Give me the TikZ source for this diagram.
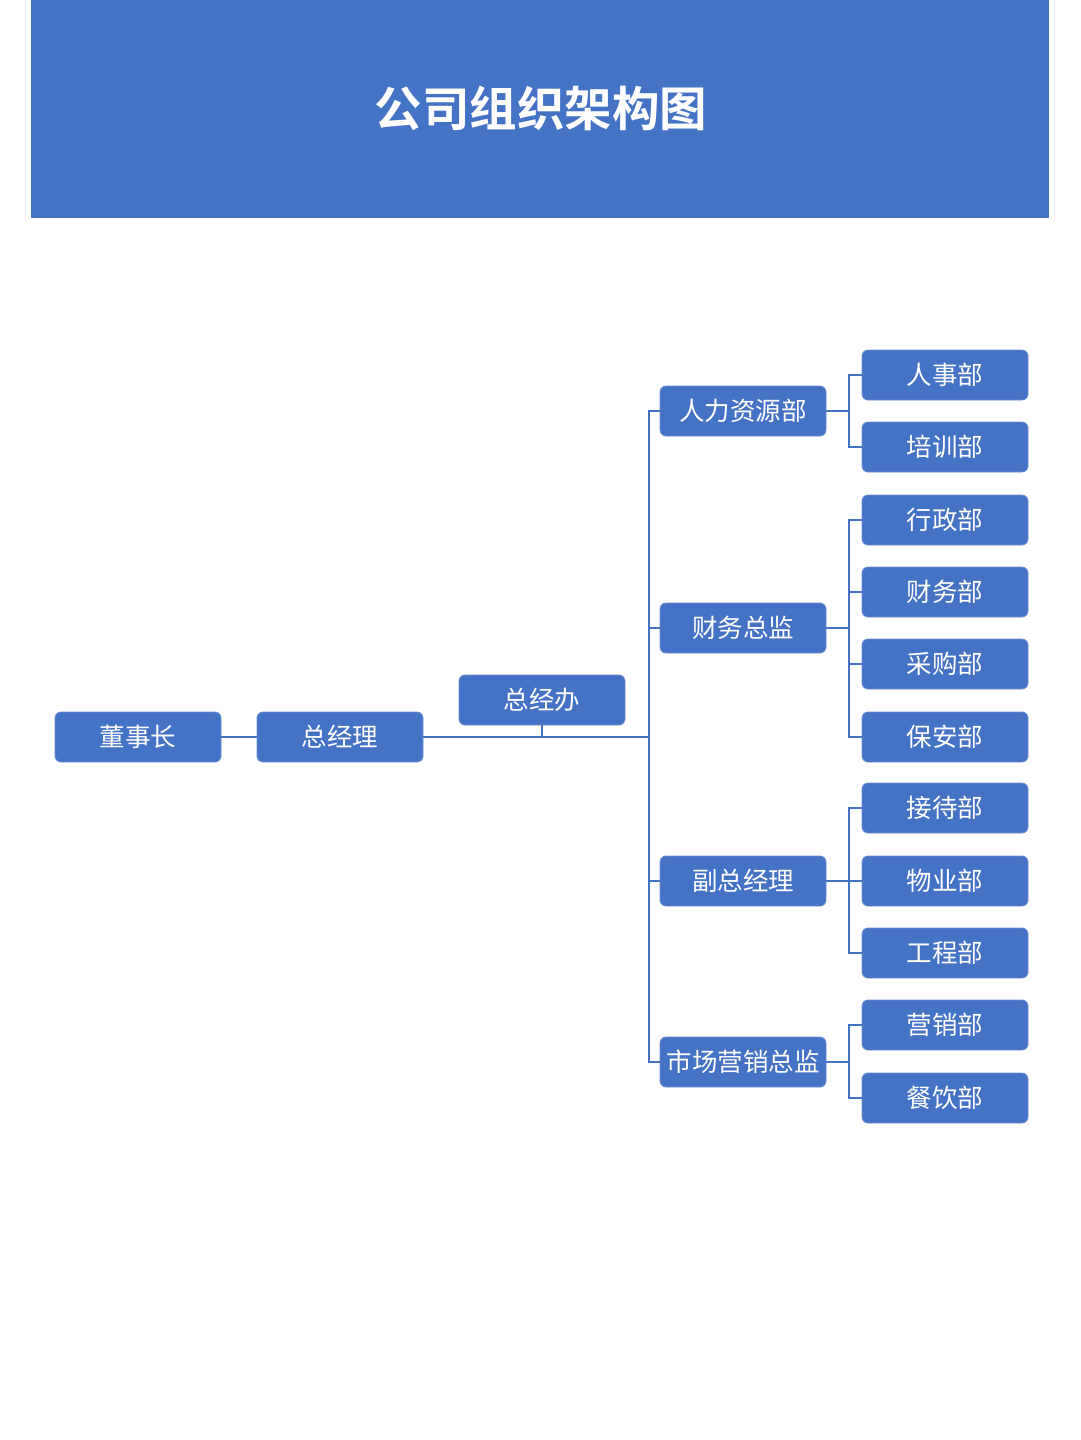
\documentclass[tikz,border=0pt]{standalone}
\usepackage{fontspec}
\setmainfont{Noto Sans CJK SC}
\newfontfamily\titlefont[BoldFont=* Bold]{Noto Sans CJK SC}
\usetikzlibrary{positioning,calc}
\definecolor{boxblue}{HTML}{4472C4}

\begin{document}
\begin{tikzpicture}[x=1pt,y=-1pt,
    unit/.style={rectangle,rounded corners=6pt,fill=boxblue,draw=boxblue!80!white,line width=0.8pt,
      minimum width=166pt,minimum height=50pt,inner sep=0pt,text=white,
      font=\fontsize{25.5}{25.5}\selectfont},
    link/.style={draw=boxblue,line width=1.8pt}
    ]
\useasboundingbox (0,0) rectangle (1080,1440);
% Bandeau du titre
\fill[boxblue] (31,0) rectangle (1049,218);
\node (titre) at (541,108) [text=white,font=\titlefont\bfseries\fontsize{47.5}{47.5}\selectfont] {公司组织架构图};

% Niveau direction
\node[unit] (dsz) at (138,737) {董事长};
\node[unit] (zjl) at (340,737) {总经理};
\node[unit] (zjb) at (542,700) {总经办};

% Niveau intermediaire
\node[unit] (rl) at (743,411) {人力资源部};
\node[unit] (cw) at (743,628) {财务总监};
\node[unit] (fz) at (743,881) {副总经理};
\node[unit] (sc) at (743,1062) {市场营销总监};

% Departements
\node[unit] (rs) at (945,375) {人事部};
\node[unit] (px) at (945,447) {培训部};
\node[unit] (xz) at (945,520) {行政部};
\node[unit] (cwb) at (945,592) {财务部};
\node[unit] (cg) at (945,664) {采购部};
\node[unit] (ba) at (945,737) {保安部};
\node[unit] (jd) at (945,808) {接待部};
\node[unit] (wy) at (945,881) {物业部};
\node[unit] (gc) at (945,953) {工程部};
\node[unit] (yx) at (945,1025) {营销部};
\node[unit] (cy) at (945,1098) {餐饮部};

\coordinate (tronc) at (649,737);
\coordinate (bras) at (849,737);

\draw[link] (dsz) -- (zjl);
\draw[link] (zjl.east) -- (tronc);
\draw[link] (zjb.south) -- (zjb.south |- zjl);
\draw[link] (rl.west) -- (rl.west -| tronc) -- (sc.west -| tronc) -- (sc.west);
\draw[link] (cw.west) -- (cw.west -| tronc);
\draw[link] (fz.west) -- (fz.west -| tronc);

% Rattachements des departements
\draw[link] (rl.east) -- (rl.east -| bras);
\draw[link] (rs.west) -- (rs.west -| bras) -- (px.west -| bras) -- (px.west);
\draw[link] (cw.east) -- (cw.east -| bras);
\draw[link] (xz.west) -- (xz.west -| bras) -- (ba.west -| bras) -- (ba.west);
\draw[link] (cwb.west) -- (cwb.west -| bras);
\draw[link] (cg.west) -- (cg.west -| bras);
\draw[link] (fz.east) -- (wy.west);
\draw[link] (jd.west) -- (jd.west -| bras) -- (gc.west -| bras) -- (gc.west);
\draw[link] (sc.east) -- (sc.east -| bras);
\draw[link] (yx.west) -- (yx.west -| bras) -- (cy.west -| bras) -- (cy.west);
\end{tikzpicture}
\end{document}
